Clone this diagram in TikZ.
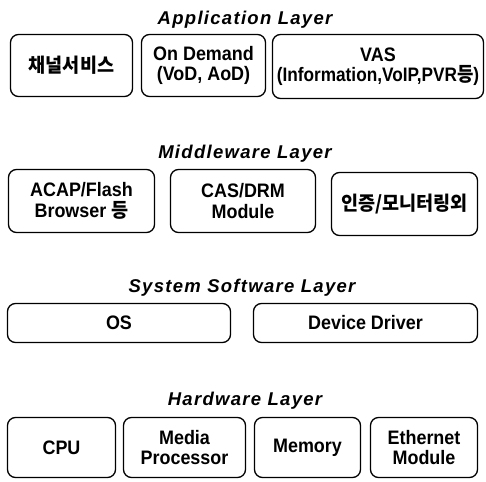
\documentclass[tikz,border=0pt]{standalone}
\usepackage{fontspec}
\setmainfont{Liberation Sans}
\newfontfamily\boxfont[FakeStretch=0.92]{Liberation Sans}
\newfontfamily\kr[FakeStretch=0.95]{Noto Sans CJK KR}
\newfontfamily\titlefont[LetterSpace=7]{Liberation Sans}
\begin{document}
\begin{tikzpicture}[x=1pt,y=-1pt,
  box/.style={draw, line width=1.3pt, rounded corners=8pt, align=center,
    font=\fontsize{19.5}{20.5}\boxfont\bfseries, inner sep=0pt},
  layertitle/.style={anchor=base, inner sep=0pt,
    font=\fontsize{18.5}{20}\titlefont\bfseries\itshape}]
\useasboundingbox (0,0) rectangle (486,481);

% Application layer
\node[layertitle] (tapp) at (245,25) {Application Layer};
\node[box, minimum width=122pt, minimum height=62pt] (app1) at (71.5,65.5) {{\kr 채널서비스}};
\node[box, minimum width=124pt, minimum height=62pt] (app2) at (203.5,65.5) {On Demand\\(VoD, AoD)};
\node[box, minimum width=211pt, minimum height=64pt] (app3) at (378,66.5)
  {VAS\\\scalebox{0.96}[1]{(Information,VoIP,PVR{\kr 등})}};

% Middleware layer
\node[layertitle] (tmid) at (245,158) {Middleware Layer};
\node[box, minimum width=146pt, minimum height=63pt] (mid1) at (81.5,201) {ACAP/Flash\\Browser {\kr 등}};
\node[box, minimum width=145pt, minimum height=63pt] (mid2) at (243,201) {CAS/DRM\\Module};
\node[box, minimum width=146pt, minimum height=63pt] (mid3) at (404.5,204) {{\kr 인증/모니터링외}};

% System software layer
\node[layertitle] (tsys) at (242,292) {System Software Layer};
\node[box, minimum width=223pt, minimum height=39pt] (os) at (119,323) {OS};
\node[box, minimum width=224pt, minimum height=39pt] (dd) at (365.5,323) {Device Driver};

% Hardware layer
\node[layertitle] (thw) at (245,405) {Hardware Layer};
\node[box, minimum width=108pt, minimum height=60pt] (cpu) at (61.5,447.5) {CPU};
\node[box, minimum width=122pt, minimum height=60pt] (mp) at (184.5,447.5) {Media\\Processor};
\node[box, minimum width=106pt, minimum height=60pt] (mem) at (307.5,447.5) {Memory};
\node[box, minimum width=107pt, minimum height=60pt] (eth) at (424,447.5) {Ethernet\\Module};
\end{tikzpicture}
\end{document}
